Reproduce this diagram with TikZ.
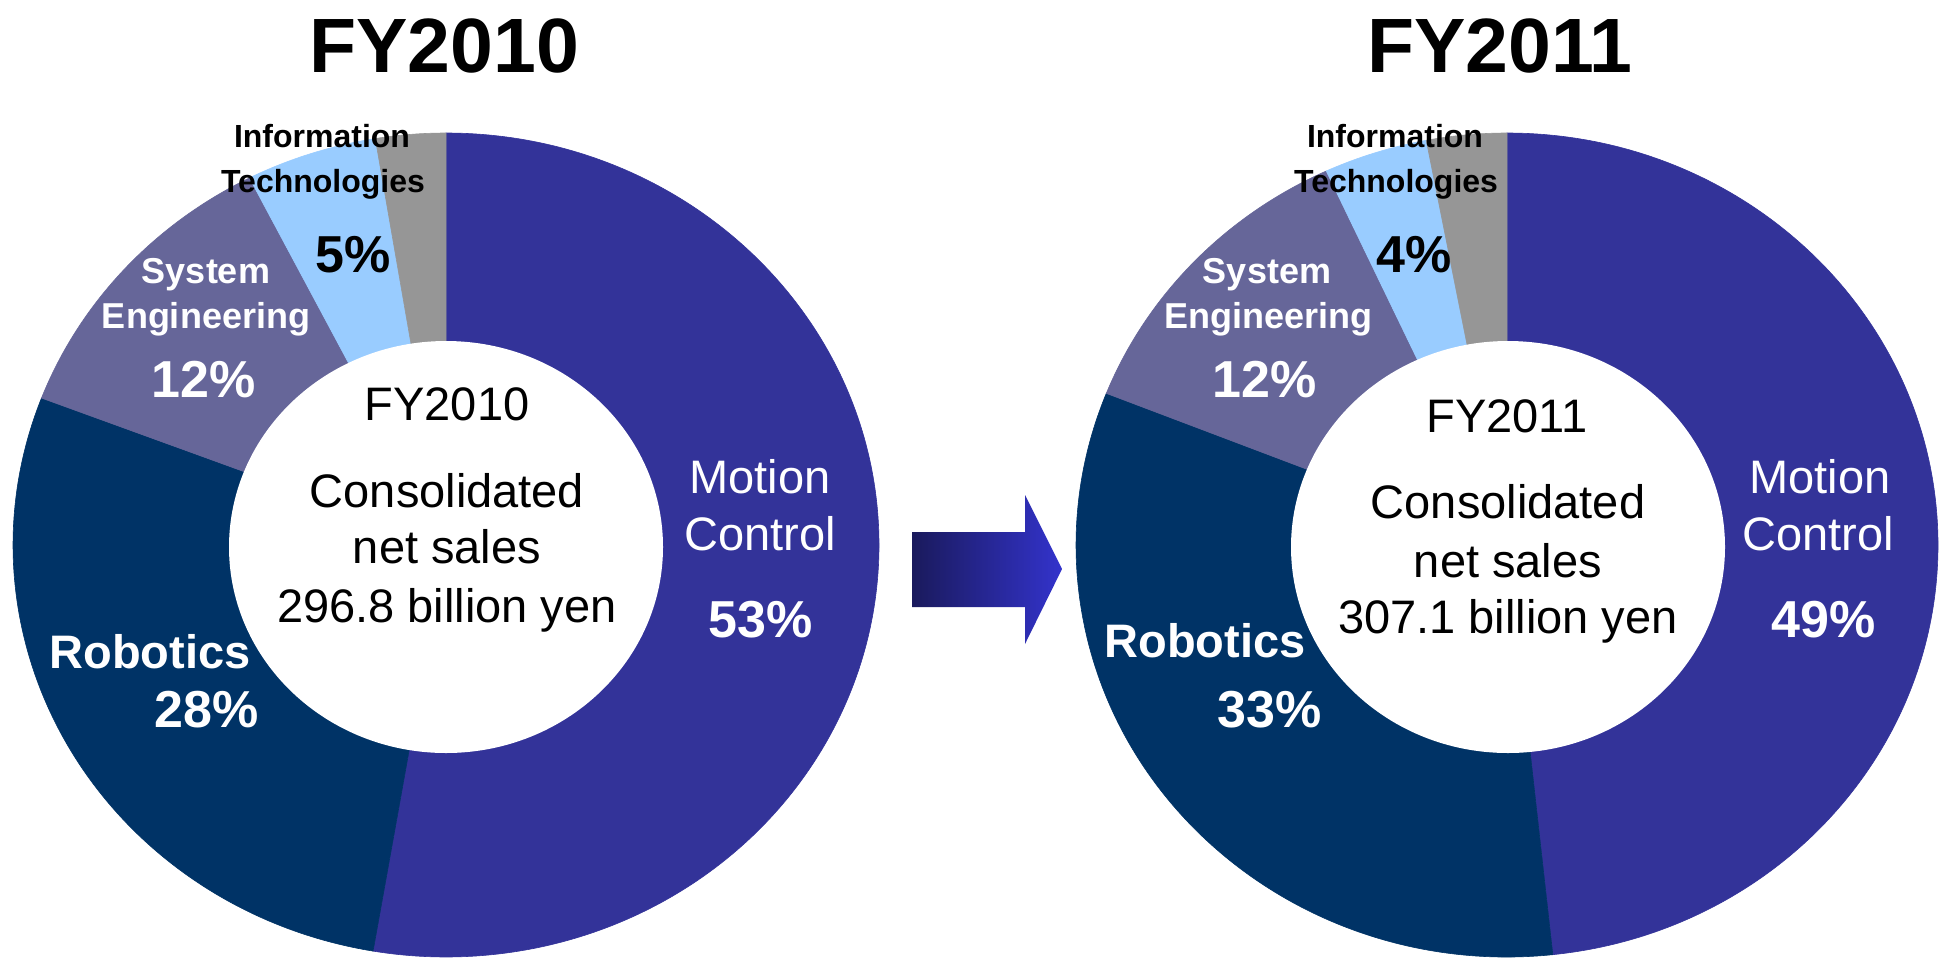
\documentclass[tikz,border=0pt]{standalone}
\usepackage{fontspec}
\setmainfont{Liberation Sans}
\definecolor{mccol}{HTML}{333399}
\definecolor{robcol}{HTML}{003366}
\definecolor{secol}{HTML}{666699}
\definecolor{itcol}{HTML}{99CCFF}
\definecolor{othcol}{HTML}{969696}
\definecolor{arrL}{HTML}{1A1A5C}
\definecolor{arrR}{HTML}{3333CC}
\tikzset{
  lbl/.style={anchor=base, inner sep=0pt, outer sep=0pt},
  ttl/.style={lbl, font=\fontsize{77}{77}\selectfont\bfseries},
  itlbl/.style={lbl, font=\fontsize{32}{32}\selectfont\bfseries},
  pctb/.style={lbl, font=\fontsize{52}{52}\selectfont\bfseries},
  pctw/.style={pctb, text=white},
  selbl/.style={lbl, text=white, font=\fontsize{36}{36}\selectfont\bfseries},
  roblbl/.style={lbl, text=white, font=\fontsize{47}{47}\selectfont\bfseries},
  mclbl/.style={lbl, text=white, font=\fontsize{47}{47}\selectfont},
  ctr/.style={lbl, text=black, font=\fontsize{47}{47}\selectfont},
  wedge/.style={line width=0.6pt},
}
\begin{document}
\begin{tikzpicture}[x=1pt,y=1pt]
\useasboundingbox (0,0) rectangle (1942,-959);
\fill[white] (0,0) rectangle (1942,-959);

% ---------- FY2010 donut ----------
\begin{scope}[shift={(446,-545)}]
  \filldraw[wedge, mccol] (0,0) -- (90:433 and 412) arc[start angle=90, end angle=-99.7, x radius=433, y radius=412] -- cycle;
  \filldraw[wedge, robcol] (0,0) -- (-99.7:433 and 412) arc[start angle=-99.7, end angle=-200.9, x radius=433, y radius=412] -- cycle;
  \filldraw[wedge, secol] (0,0) -- (-200.9:433 and 412) arc[start angle=-200.9, end angle=-243.0, x radius=433, y radius=412] -- cycle;
  \filldraw[wedge, itcol] (0,0) -- (-243.0:433 and 412) arc[start angle=-243.0, end angle=-260.6, x radius=433, y radius=412] -- cycle;
  \filldraw[wedge, othcol] (0,0) -- (-260.6:433 and 412) arc[start angle=-260.6, end angle=-270, x radius=433, y radius=412] -- cycle;
  \fill[white] (0,-2) ellipse[x radius=217, y radius=206];
\end{scope}

% ---------- FY2011 donut ----------
\begin{scope}[shift={(1507,-545)}]
  \filldraw[wedge, mccol] (0,0) -- (90:431 and 412) arc[start angle=90, end angle=-83.9, x radius=431, y radius=412] -- cycle;
  \filldraw[wedge, robcol] (0,0) -- (-83.9:431 and 412) arc[start angle=-83.9, end angle=-201.6, x radius=431, y radius=412] -- cycle;
  \filldraw[wedge, secol] (0,0) -- (-201.6:431 and 412) arc[start angle=-201.6, end angle=-245.2, x radius=431, y radius=412] -- cycle;
  \filldraw[wedge, itcol] (0,0) -- (-245.2:431 and 412) arc[start angle=-245.2, end angle=-259.2, x radius=431, y radius=412] -- cycle;
  \filldraw[wedge, othcol] (0,0) -- (-259.2:431 and 412) arc[start angle=-259.2, end angle=-270, x radius=431, y radius=412] -- cycle;
  \fill[white] (1,-2) ellipse[x radius=217, y radius=206];
\end{scope}

% ---------- arrow ----------
\shade[left color=arrL, right color=arrR]
  (912,-532) -- (1025,-532) -- (1025,-495) -- (1062,-569) -- (1025,-644) -- (1025,-607) -- (912,-607) -- cycle;

% ---------- FY2010 labels ----------
\node[ttl] (t1) at (444,-72) {FY2010};
\node[itlbl] (it1a) at (322,-147) {Information};
\node[itlbl] (it1b) at (323,-192) {Technologies};
\node[pctb] (it1p) at (353,-272) {5\%};
\node[selbl] (se1a) at (206,-283) {System};
\node[selbl] (se1b) at (206,-328) {Engineering};
\node[pctw] (se1p) at (204,-397) {12\%};
\node[ctr] (c1a) at (447,-420) {FY2010};
\node[ctr] (c1b) at (447,-507) {Consolidated};
\node[ctr] (c1c) at (447,-563) {net sales};
\node[ctr] (c1d) at (447,-622) {296.8 billion yen};
\node[mclbl] (mc1a) at (760,-493) {Motion};
\node[mclbl] (mc1b) at (760,-550) {Control};
\node[pctw] (mc1p) at (761,-637) {53\%};
\node[roblbl] (rb1a) at (150,-668) {Robotics};
\node[pctw] (rb1p) at (207,-727) {28\%};

% ---------- FY2011 labels ----------
\node[ttl] (t2) at (1500,-72) {FY2011};
\node[itlbl] (it2a) at (1395,-147) {Information};
\node[itlbl] (it2b) at (1396,-192) {Technologies};
\node[pctb] (it2p) at (1414,-272) {4\%};
\node[selbl] (se2a) at (1267,-283) {System};
\node[selbl] (se2b) at (1268,-328) {Engineering};
\node[pctw] (se2p) at (1265,-397) {12\%};
\node[ctr] (c2a) at (1507,-432) {FY2011};
\node[ctr] (c2b) at (1508,-518) {Consolidated};
\node[ctr] (c2c) at (1508,-577) {net sales};
\node[ctr] (c2d) at (1508,-633) {307.1 billion yen};
\node[mclbl] (mc2a) at (1820,-493) {Motion};
\node[mclbl] (mc2b) at (1818,-550) {Control};
\node[pctw] (mc2p) at (1824,-637) {49\%};
\node[roblbl] (rb2a) at (1205,-657) {Robotics};
\node[pctw] (rb2p) at (1270,-727) {33\%};
\end{tikzpicture}
\end{document}
